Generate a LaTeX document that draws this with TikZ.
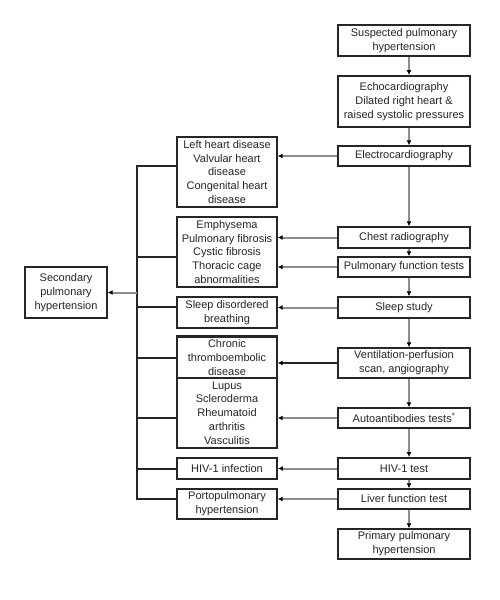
\documentclass[tikz,border=0pt]{standalone}
\usepackage{fontspec}
\setmainfont{Liberation Sans}
\usetikzlibrary{arrows.meta}
\begin{document}
\begin{tikzpicture}[x=1pt,y=-1pt,
  box/.style={draw=black!85, line width=1.4pt, fill=white, align=center, inner sep=0pt,
    font=\fontsize{11}{13.8}\selectfont, text=black!85},
  thickbox/.style={box, line width=1.9pt},
  rbox/.style={minimum width=132pt},
  lbox/.style={minimum width=100pt},
  garrow/.style={draw=black!45, line width=2pt, -{Latex[color=black,length=5pt,width=5pt]}},
  darrow/.style={draw=black!85, line width=1.8pt, -{Latex[color=black,length=5pt,width=5pt]}},
  bus/.style={draw=black!85, line width=1.5pt},
  branch/.style={draw=black!85, line width=1.1pt}]
\useasboundingbox (0,0) rectangle (500,600);
% right column
\node[thickbox,rbox,minimum height=31pt] (r1) at (404,40.5) {Suspected pulmonary\\hypertension};
\node[thickbox,rbox,minimum height=51pt] (r2) at (404,101.5) {Echocardiography\\Dilated right heart \&\\raised systolic pressures};
\node[box,rbox,minimum height=20pt] (r3) at (404,156) {Electrocardiography};
\node[box,rbox,minimum height=21pt] (r4) at (404,237.5) {Chest radiography};
\node[box,rbox,minimum height=20pt] (r5) at (404,267) {Pulmonary function tests};
\node[box,rbox,minimum height=21pt] (r6) at (404,307.5) {Sleep study};
\node[box,rbox,minimum height=30pt] (r7) at (404,363) {Ventilation-perfusion\\scan, angiography};
\node[box,rbox,minimum height=20pt] (r8) at (404,418) {Autoantibodies tests\textsuperscript{*}};
\node[thickbox,rbox,minimum height=21pt] (r9) at (404,468.5) {HIV-1 test};
\node[box,rbox,minimum height=20pt] (r10) at (404,499) {Liver function test};
\node[box,rbox,minimum height=30pt] (r11) at (404,544) {Primary pulmonary\\hypertension};
% left column
\node[box,lbox,minimum height=70pt] (lA) at (227,172) {Left heart disease\\Valvular heart\\disease\\Congenital heart\\disease};
\node[box,lbox,minimum height=70pt] (lB) at (227,252) {Emphysema\\Pulmonary fibrosis\\Cystic fibrosis\\Thoracic cage\\abnormalities};
\node[box,lbox,minimum height=31pt] (lC) at (227,312.5) {Sleep disordered\\breathing};
\node[box,lbox,minimum height=70pt] (lE) at (227,413) {Lupus\\Scleroderma\\Rheumatoid\\arthritis\\Vasculitis};
\node[box,lbox,minimum height=41pt] (lD) at (227,357.5) {Chronic\\thromboembolic\\disease};
\draw[draw=black!85,line width=1.9pt] (lD.north west) -- (lD.north east);
\node[thickbox,lbox,minimum height=21pt] (lF) at (227,468.5) {HIV-1 infection};
\node[box,lbox,minimum height=30pt] (lG) at (227,504) {Portopulmonary\\hypertension};
% secondary
\node[box,minimum width=82pt,minimum height=51pt] (sec) at (66,292.5) {Secondary\\pulmonary\\hypertension};
% vertical arrows
\foreach \a/\b in {r1/r2,r2/r3,r3/r4,r4/r5,r5/r6,r6/r7,r7/r8,r8/r9,r9/r10,r10/r11}
  \draw[garrow] ([xshift=5pt]\a.south) -- ([xshift=5pt]\b.north);
% horizontal arrows
\draw[garrow] (r3.west) -- (r3.west -| lA.east);
\draw[garrow] (r4.west) -- (r4.west -| lB.east);
\draw[garrow] (r5.west) -- (r5.west -| lB.east);
\draw[garrow] (r6.west) -- (r6.west -| lC.east);
\draw[darrow] (r7.west) -- (r7.west -| lD.east);
\draw[garrow] (r8.west) -- (r8.west -| lE.east);
\draw[garrow] (r9.west) -- (r9.west -| lF.east);
\draw[garrow] (r10.west) -- (r10.west -| lG.east);
% bus
\coordinate (bA) at (137,166);
\coordinate (bB) at (137,257);
\coordinate (bC) at (137,307);
\coordinate (bD) at (137,358);
\coordinate (bE) at (137,418);
\coordinate (bF) at (137,469);
\coordinate (bG) at (137,499);
\draw[bus] ([yshift=0.75pt]bA) -- ([yshift=-0.75pt]bG);
\draw[branch] (bA) -- (bA -| lA.west);
\draw[branch] (bB) -- (bB -| lB.west);
\draw[branch] (bC) -- (bC -| lC.west);
\draw[branch] (bD) -- (bD -| lD.west);
\draw[branch] (bE) -- (bE -| lE.west);
\draw[bus,line width=1.8pt] (bF) -- (bF -| lF.west);
\draw[branch] (bG) -- (bG -| lG.west);
\draw[garrow] (sec.east -| bA) -- (sec.east);
\end{tikzpicture}
\end{document}
